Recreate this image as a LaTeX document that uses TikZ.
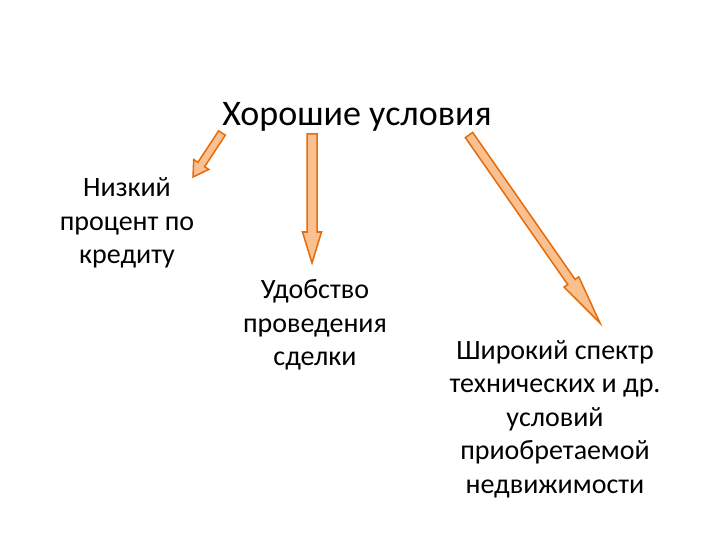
\documentclass[tikz,border=0pt]{standalone}
\usepackage{fontspec}
\setmainfont{Carlito}
\usetikzlibrary{calc}
\definecolor{arrline}{RGB}{228,108,10}
\definecolor{arrfill}{RGB}{250,192,144}
\tikzset{
  txt/.style={align=center, inner sep=0pt, font=\fontsize{28}{33.5}\selectfont},
  ttl/.style={inner sep=0pt, font=\fontsize{36}{40}\selectfont},
  blockarr/.style={draw=arrline, fill=arrfill, line width=1.5pt, line join=miter}
}
\newcommand{\blockarrow}[5]{% start, tip, shaft half width, head half width, head length
  \draw[blockarr]
    ($(#1)!#3!90:(#2)$) --
    ($($(#2)!#5!(#1)$)!#3!90:(#2)$) --
    ($($(#2)!#5!(#1)$)!#4!90:(#2)$) --
    (#2) --
    ($($(#2)!#5!(#1)$)!#4!-90:(#2)$) --
    ($($(#2)!#5!(#1)$)!#3!-90:(#2)$) --
    ($(#1)!#3!-90:(#2)$) -- cycle;
}
\begin{document}
\begin{tikzpicture}[x=1pt,y=-1pt]
\useasboundingbox (0,0) rectangle (720,540);
\node[ttl] (title) at (357,117) {Хорошие условия};
\node[txt] (left) at (127,223) {Низкий\\процент по\\кредиту};
\node[txt] (mid) at (315,325) {Удобство\\проведения\\сделки};
\node[txt] (right) at (555,419) {Широкий спектр\\технических и др.\\условий\\приобретаемой\\недвижимости};
\coordinate (a1s) at (222,133);
\coordinate (a1e) at (193,177);
\coordinate (a2s) at (312,134);
\coordinate (a2e) at (312,263);
\coordinate (a3s) at (469,135);
\coordinate (a3e) at (600,323);
\blockarrow{a1s}{a1e}{4pt}{9pt}{15pt}
\blockarrow{a2s}{a2e}{5pt}{9.5pt}{31pt}
\blockarrow{a3s}{a3e}{4.5pt}{9pt}{50pt}
\end{tikzpicture}
\end{document}
